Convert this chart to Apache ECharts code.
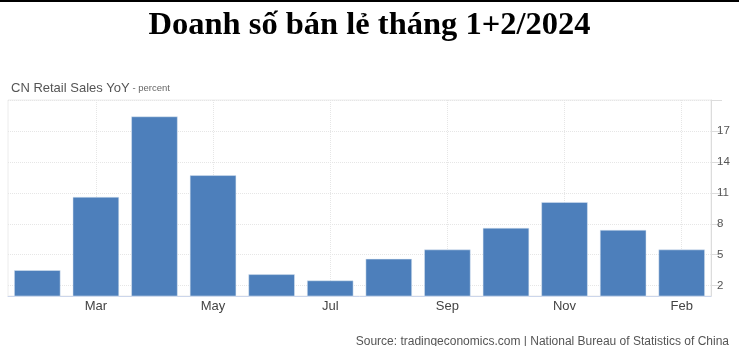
<!DOCTYPE html>
<html>
<head>
<meta charset="utf-8">
<script src="https://cdn.jsdelivr.net/npm/echarts@6/dist/echarts.min.js"></script>
<style>
  html, body { margin: 0; padding: 0; background: #fff; }
  #chart { width: 739px; height: 346px; }
</style>
</head>
<body>
<div id="chart"></div>
<script>
var months = ['Feb', 'Mar', 'Apr', 'May', 'Jun', 'Jul', 'Aug', 'Sep', 'Oct', 'Nov', 'Dec', 'Feb'];
var retailYoY = [3.5, 10.6, 18.4, 12.7, 3.1, 2.5, 4.6, 5.5, 7.6, 10.1, 7.4, 5.5];
var yTicks = [2, 5, 8, 11, 14, 17, 20];
var yLabels = [2, 5, 8, 11, 14, 17];

var chart = echarts.init(document.getElementById('chart'));
var option = {
  backgroundColor: '#fff',
  animation: false,
  title: [{
    text: 'Doanh số bán lẻ tháng 1+2/2024',
    left: 'center',
    top: 4,
    textStyle: {
      fontFamily: 'Liberation Serif',
      fontWeight: 'bold',
      fontSize: 32.5,
      color: '#000'
    }
  }, {
    text: '{a|CN Retail Sales YoY}{b| - percent}',
    left: 6,
    top: 77,
    textStyle: {
      fontWeight: 'normal',
      rich: {
        a: { fontFamily: 'Liberation Sans', fontWeight: 'normal', fontSize: 13, color: '#555' },
        b: { fontFamily: 'Liberation Sans', fontWeight: 'normal', fontSize: 9.5, color: '#666' }
      }
    }
  }, {
    text: 'Source: tradingeconomics.com | National Bureau of Statistics of China',
    right: 5,
    top: 331,
    textStyle: {
      fontFamily: 'Liberation Sans',
      fontWeight: 'normal',
      fontSize: 12,
      color: '#555'
    }
  }],
  graphic: [{
    type: 'rect',
    shape: { x: 0, y: 0, width: 739, height: 2 },
    style: { fill: '#000' }
  }],
  grid: {
    left: 8,
    right: 28,
    top: 100,
    bottom: 50,
    show: true,
    borderWidth: 1,
    borderColor: '#ececec'
  },
  xAxis: {
    type: 'category',
    data: months,
    axisLine: { lineStyle: { color: '#ccd6eb' } },
    axisTick: { show: false },
    axisLabel: {
      interval: function (i) { return i % 2 === 1; },
      margin: 4,
      fontFamily: 'Liberation Sans',
      fontSize: 13,
      color: '#444'
    },
    splitLine: {
      show: true,
      alignWithLabel: true,
      interval: function (i) { return i % 2 === 1; },
      lineStyle: { color: '#e6e6e6', type: 'dotted' }
    }
  },
  yAxis: {
    type: 'value',
    position: 'right',
    min: 1,
    max: 20,
    axisLine: { show: true, lineStyle: { color: '#dcdcdc' } },
    axisTick: {
      show: true,
      length: 11,
      customValues: yTicks,
      lineStyle: { color: '#dcdcdc' }
    },
    axisLabel: {
      customValues: yLabels,
      margin: 6,
      fontFamily: 'Liberation Sans',
      fontSize: 11.5,
      color: '#555'
    },
    splitLine: {
      show: true,
      lineStyle: { color: '#e6e6e6', type: 'dotted' }
    }
  },
  series: [{
    name: 'CN Retail Sales YoY',
    type: 'bar',
    data: retailYoY,
    barCategoryGap: '21%',
    itemStyle: {
      color: '#4d7fbb',
      borderColor: '#dfe8f3',
      borderWidth: 0.5
    }
  }]
};
chart.setOption(option);
</script>
</body>
</html>
